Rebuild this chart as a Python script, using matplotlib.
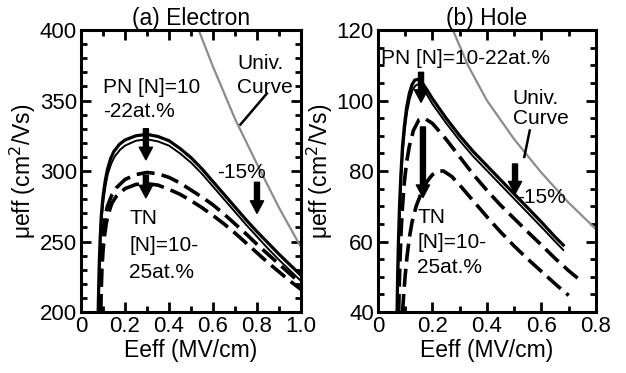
import numpy as np
import matplotlib
matplotlib.use("Agg")
import matplotlib.pyplot as plt
from matplotlib.ticker import MultipleLocator, FuncFormatter

plt.rcParams["font.family"] = ["Liberation Sans", "DejaVu Sans"]

# ---- (a) Electron ----
e_pn1_x = [0.078, 0.08, 0.083, 0.087, 0.092, 0.1, 0.11, 0.12, 0.135, 0.15, 0.175, 0.2, 0.25, 0.3, 0.35,
           0.4, 0.45, 0.5, 0.55, 0.6, 0.65, 0.7, 0.75, 0.8, 0.85, 0.9, 0.95, 1.0]
e_pn1_y = [200, 215, 235, 252, 268, 282, 293, 301, 309, 314, 319, 322, 325, 326, 324.5,
           321.5, 316, 309.5, 301.5, 292.5, 283.5, 274.5, 265.5, 257, 249, 241, 233.5, 226]
e_pn2_x = [0.08, 0.082, 0.085, 0.089, 0.094, 0.102, 0.112, 0.122, 0.137, 0.152, 0.177, 0.2, 0.25, 0.3, 0.35,
           0.4, 0.45, 0.5, 0.55, 0.6, 0.65, 0.7, 0.75, 0.8, 0.85, 0.9, 0.95, 1.0]
e_pn2_y = [200, 215, 235, 251, 266, 279, 290, 298, 305, 310, 315, 318, 321.5, 322.5, 321,
           318, 312.5, 306, 298, 289, 280, 271, 262, 253.5, 245, 237, 229.5, 222]
e_tn1_x = [0.086, 0.088, 0.091, 0.095, 0.1, 0.11, 0.12, 0.14, 0.16, 0.2, 0.25, 0.3, 0.35, 0.4, 0.45,
           0.5, 0.55, 0.6, 0.65, 0.7, 0.75, 0.8, 0.85, 0.9, 0.95, 1.0]
e_tn1_y = [200, 215, 232, 246, 257, 268, 275, 283, 288, 294, 297.5, 299, 298, 295.5, 291.5,
           286.5, 281.5, 276, 269.5, 262.5, 255.5, 248, 241, 234, 227, 220]
e_tn2_x = [0.09, 0.092, 0.095, 0.1, 0.106, 0.115, 0.125, 0.14, 0.16, 0.2, 0.25, 0.3, 0.35, 0.4, 0.45,
           0.5, 0.55, 0.6, 0.65, 0.7, 0.75, 0.8, 0.85, 0.9, 0.95, 1.0]
e_tn2_y = [200, 215, 230, 243, 253, 263, 270, 277, 282, 287.5, 290.5, 291, 290, 287, 283.5,
           279, 274, 268.5, 262.5, 256, 249, 242, 235, 228.5, 222, 216]
e_univ_x = [0.535, 0.6, 0.7, 0.8, 0.9, 1.0]
e_univ_y = [400, 374, 337, 305, 274, 246]

# ---- (b) Hole ----
h_pn1_x = [0.07, 0.072, 0.075, 0.079, 0.084, 0.09, 0.097, 0.105, 0.115, 0.125, 0.135, 0.145, 0.16, 0.18,
           0.2, 0.25, 0.3, 0.35, 0.4, 0.45, 0.5, 0.55, 0.6, 0.65, 0.68]
h_pn1_y = [40, 50, 60, 70, 79, 87, 93, 98, 102, 104.5, 105.8, 106, 105.3, 103,
           100.5, 95, 90, 85.5, 81.5, 77.5, 73.5, 69.5, 65.5, 61.3, 59]
h_pn2_x = [0.072, 0.074, 0.077, 0.081, 0.086, 0.092, 0.099, 0.107, 0.117, 0.127, 0.137, 0.147, 0.162, 0.18,
           0.2, 0.25, 0.3, 0.35, 0.4, 0.45, 0.5, 0.55, 0.6, 0.65, 0.68]
h_pn2_y = [40, 50, 60, 70, 78.5, 86, 92, 96.8, 100.6, 103, 104.2, 104.6, 103.9, 101.6,
           99, 93.6, 88.6, 84.1, 80.1, 76.1, 72.1, 68.1, 64.1, 60, 57.6]
h_tn1_x = [0.076, 0.078, 0.081, 0.085, 0.09, 0.097, 0.105, 0.115, 0.13, 0.15, 0.17, 0.2, 0.25, 0.3,
           0.35, 0.4, 0.45, 0.5, 0.55, 0.6, 0.65, 0.7, 0.75]
h_tn1_y = [40, 47, 55, 63, 70, 77, 82.5, 87, 91.5, 94.5, 95, 93.5, 89, 84,
           79, 74.5, 70.3, 66.5, 62.7, 59, 55.2, 51.7, 48.5]
h_tn2_x = [0.09, 0.095, 0.1, 0.107, 0.115, 0.125, 0.14, 0.16, 0.18, 0.2, 0.22, 0.24, 0.27, 0.3,
           0.35, 0.4, 0.45, 0.5, 0.55, 0.6, 0.65, 0.7]
h_tn2_y = [40, 45.5, 50.5, 56, 61, 65.5, 70, 74, 77, 79, 80, 80, 78.5, 76,
           71.5, 67, 62.7, 58.7, 55, 51.5, 48, 44.7]
h_univ_x = [0.275, 0.33, 0.4, 0.5, 0.6, 0.7, 0.8]
h_univ_y = [120, 110, 100, 89, 79.5, 71, 63.5]

fig = plt.figure(figsize=(6.26, 3.73), dpi=100)
ax1 = fig.add_axes([0.1294, 0.1635, 0.3514, 0.756])
ax2 = fig.add_axes([0.6038, 0.1635, 0.3482, 0.756])

DASH = (0, (5, 2))
GRAY = "#8c8c8c"


def fmt(v, pos):
    return "0" if abs(v) < 1e-9 else "%.1f" % v


def arrow(ax, x, y0, y1):
    ax.annotate("", xy=(x, y1), xytext=(x, y0),
                arrowprops=dict(arrowstyle="simple,head_length=0.9,head_width=0.95,tail_width=0.36",
                                color="k", mutation_scale=10, shrinkA=0, shrinkB=0))


def style(ax, xmax, ymin, ymax, xmaj, ymaj, ymin_step, title):
    ax.set_xlim(0, xmax)
    ax.set_ylim(ymin, ymax)
    ax.xaxis.set_major_locator(MultipleLocator(xmaj))
    ax.xaxis.set_minor_locator(MultipleLocator(0.1))
    ax.yaxis.set_major_locator(MultipleLocator(ymaj))
    ax.yaxis.set_minor_locator(MultipleLocator(ymin_step))
    ax.xaxis.set_major_formatter(FuncFormatter(fmt))
    ax.tick_params(which="both", direction="in", top=True, right=True, width=2, labelsize=16)
    ax.tick_params(which="major", length=7, pad=3)
    ax.tick_params(which="minor", length=4)
    for s in ax.spines.values():
        s.set_linewidth(2.2)
    ax.set_xlabel("Eeff (MV/cm)", fontsize=16.5, labelpad=1)
    ax.set_ylabel("μeff (cm$^2$/Vs)", fontsize=16.5, labelpad=1)
    ax.set_title(title, fontsize=16.5, pad=2)


# (a)
ax1.plot(e_univ_x, e_univ_y, color=GRAY, lw=1.6)
ax1.plot(e_pn1_x, e_pn1_y, color="k", lw=2.3)
ax1.plot(e_pn2_x, e_pn2_y, color="k", lw=1.4)
ax1.plot(e_tn1_x, e_tn1_y, color="k", lw=2.6, linestyle=DASH)
ax1.plot(e_tn2_x, e_tn2_y, color="k", lw=2.6, linestyle=DASH)
ax1.plot([0.845, 0.725], [355, 333], color="k", lw=1.8)
arrow(ax1, 0.295, 330, 308)
arrow(ax1, 0.295, 297, 281)
arrow(ax1, 0.8, 292, 270)
tk = dict(fontsize=15, va="center", ha="left")
ax1.text(0.1, 359, "PN [N]=10", **tk)
ax1.text(0.1, 342.5, "-22at.%", **tk)
ax1.text(0.62, 299, "-15%", **tk)
ax1.text(0.22, 266, "TN", **tk)
ax1.text(0.22, 247.5, "[N]=10-", **tk)
ax1.text(0.22, 228, "25at.%", **tk)
ax1.text(0.71, 376.5, "Univ.", **tk)
ax1.text(0.71, 359, "Curve", **tk)
style(ax1, 1.0, 200, 400, 0.2, 50, 10, "(a) Electron")

# (b)
ax2.plot(h_univ_x, h_univ_y, color=GRAY, lw=1.6)
ax2.plot(h_pn1_x, h_pn1_y, color="k", lw=2.3)
ax2.plot(h_pn2_x, h_pn2_y, color="k", lw=1.4)
ax2.plot(h_tn1_x, h_tn1_y, color="k", lw=2.6, linestyle=DASH)
ax2.plot(h_tn2_x, h_tn2_y, color="k", lw=2.6, linestyle=DASH)
ax2.plot([0.557, 0.537], [91.5, 84], color="k", lw=1.8)
arrow(ax2, 0.158, 108, 99.5)
arrow(ax2, 0.165, 92.5, 72.5)
arrow(ax2, 0.503, 82, 73.5)
ax2.text(0.012, 112, "PN [N]=10-22at.%", **tk)
ax2.text(0.495, 100.7, "Univ.", **tk)
ax2.text(0.495, 95, "Curve", **tk)
ax2.text(0.512, 72.6, "-15%", **tk)
ax2.text(0.145, 66.7, "TN", **tk)
ax2.text(0.145, 59.6, "[N]=10-", **tk)
ax2.text(0.145, 52.5, "25at.%", **tk)
style(ax2, 0.8, 40, 120, 0.2, 20, 5, "(b) Hole")

fig.savefig("out.png", dpi=100)
